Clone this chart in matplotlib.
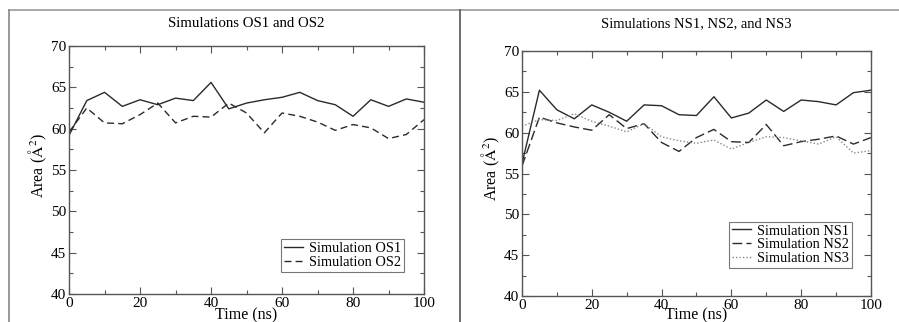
import numpy as np
import matplotlib
matplotlib.use("Agg")
import matplotlib.pyplot as plt
from matplotlib.lines import Line2D
from matplotlib.ticker import MultipleLocator

plt.rcParams['font.family'] = ['Liberation Serif', 'DejaVu Serif']
plt.rcParams['mathtext.fontset'] = 'stix'

# time axis (ns)
time_ns = np.arange(0, 101, 5)

# left panel
os1 = [59.2, 63.4, 64.4, 62.7, 63.5, 62.9, 63.7, 63.4, 65.6, 62.4, 63.1,
       63.5, 63.8, 64.4, 63.4, 62.9, 61.5, 63.5, 62.7, 63.6, 63.2]
os2 = [59.6, 62.5, 60.7, 60.6, 61.7, 63.1, 60.7, 61.5, 61.4, 63.1, 61.9,
       59.5, 61.9, 61.5, 60.8, 59.8, 60.5, 60.1, 58.8, 59.3, 61.1]

# right panel
ns1 = [56.2, 65.2, 62.8, 61.7, 63.4, 62.5, 61.4, 63.4, 63.3, 62.2, 62.1,
       64.4, 61.8, 62.4, 64.0, 62.6, 64.0, 63.8, 63.4, 64.9, 65.2]
ns2 = [55.9, 61.9, 61.2, 60.7, 60.3, 62.2, 60.5, 61.1, 58.8, 57.7, 59.4,
       60.4, 58.9, 58.8, 61.0, 58.4, 58.9, 59.2, 59.6, 58.6, 59.4]
ns3 = [60.8, 61.6, 61.5, 62.3, 61.4, 60.8, 60.1, 61.1, 59.5, 59.0, 58.7,
       59.1, 58.0, 58.8, 59.5, 59.4, 59.0, 58.6, 59.5, 57.5, 57.8]

line_col = '#2a2a2a'
frame_col = '#555555'


def style_axes(ax, xlab_y):
    ax.set_xlim(0, 100)
    ax.set_ylim(40, 70)
    ax.xaxis.set_major_locator(MultipleLocator(20))
    ax.xaxis.set_minor_locator(MultipleLocator(10))
    ax.yaxis.set_major_locator(MultipleLocator(5))
    ax.yaxis.set_minor_locator(MultipleLocator(2.5))
    ax.tick_params(which='both', direction='in', top=True, right=True,
                   color=frame_col, labelsize=11, pad=2)
    ax.tick_params(which='major', length=5, width=0.8)
    ax.tick_params(which='minor', length=3, width=0.8)
    for s in ax.spines.values():
        s.set_color(frame_col)
        s.set_linewidth(1.0)
    ax.set_xlabel('Time (ns)', fontsize=11.5)
    ax.xaxis.set_label_coords(0.5, xlab_y)
    ax.xaxis.label.set_va('center')
    ax.set_ylabel(r'Area ($\mathrm{\AA}^2$)', fontsize=11.5)
    ax.yaxis.set_label_coords(-0.088, 0.52)
    ax.yaxis.label.set_va('center')


def add_legend(ax, anchor):
    leg = ax.legend(loc='lower right', bbox_to_anchor=anchor, fontsize=10.4,
                    fancybox=False, edgecolor=frame_col, handlelength=1.3,
                    labelspacing=0.05, borderpad=0.2, handletextpad=0.45,
                    borderaxespad=0)
    leg.get_frame().set_linewidth(0.8)
    return leg


fig = plt.figure(figsize=(8.99, 3.22), dpi=100)

ax1 = fig.add_axes([0.0768, 0.087, 0.3949, 0.770])
ax1.plot(time_ns, os1, color=line_col, lw=1.0, ls='-', label='Simulation OS1')
ax1.plot(time_ns, os2, color=line_col, lw=1.0, ls=(0, (5, 3)), label='Simulation OS2')
style_axes(ax1, -0.086)
ax1.set_title('Simulations OS1 and OS2', fontsize=10.7, pad=14)
add_legend(ax1, (0.944, 0.089))

ax2 = fig.add_axes([0.5806, 0.0807, 0.3882, 0.7609])
ax2.plot(time_ns, ns1, color=line_col, lw=1.0, ls='-', label='Simulation NS1')
ax2.plot(time_ns, ns2, color=line_col, lw=1.0, ls=(0, (7, 3)), label='Simulation NS2')
ax2.plot(time_ns, ns3, color='#888888', lw=1.0, ls=(0, (1, 1.5)), label='Simulation NS3')
style_axes(ax2, -0.081)
ax2.set_title('Simulations NS1, NS2, and NS3', fontsize=10.5, pad=17)
add_legend(ax2, (0.946, 0.114))

# panel borders
fig.add_artist(Line2D([0.010, 1.0], [0.969, 0.969], color='#999999', lw=1.2))
fig.add_artist(Line2D([0.010, 0.010], [0.0, 0.969], color='#888888', lw=1.2))
fig.add_artist(Line2D([0.5117, 0.5117], [0.0, 0.969], color='#555555', lw=1.2))

fig.savefig('out.png', dpi=100)
